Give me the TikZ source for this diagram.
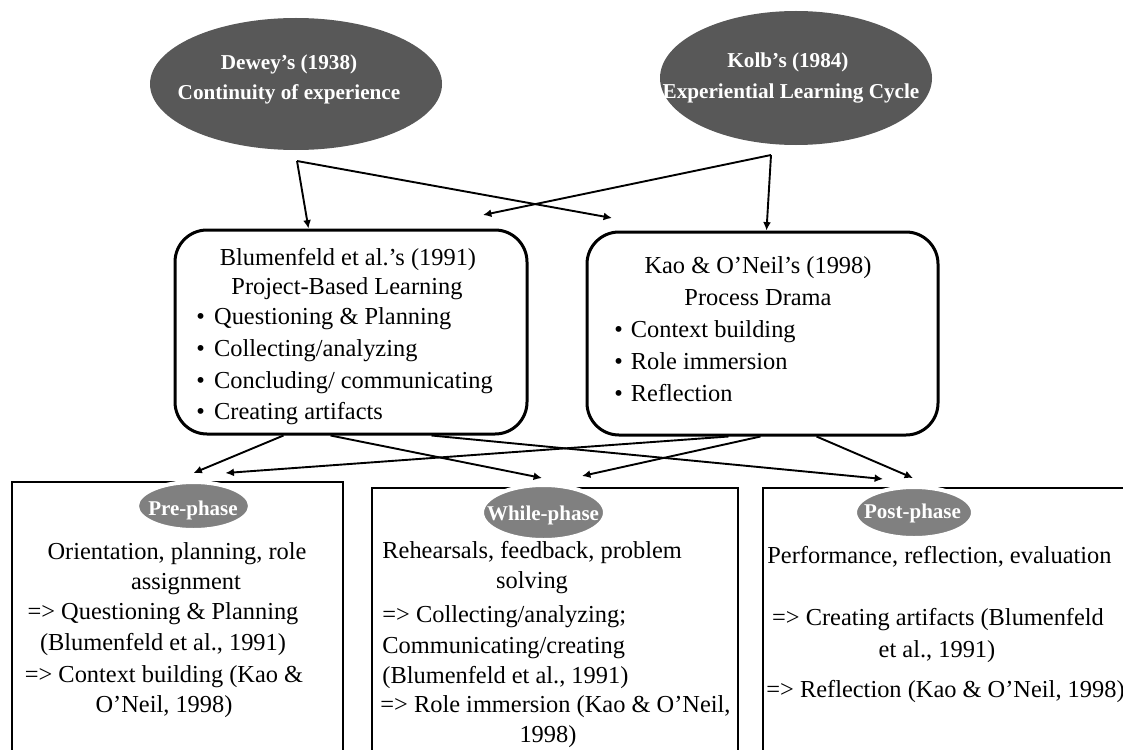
\documentclass[tikz,border=0pt]{standalone}
\usepackage{fontspec}
\setmainfont{Liberation Serif}
\usetikzlibrary{shapes.geometric,arrows.meta}
\definecolor{topgray}{RGB}{88,88,88}
\definecolor{phgray}{RGB}{128,128,128}
\tikzset{
  topell/.style={ellipse, fill=topgray, inner sep=0pt},
  phell/.style={ellipse, fill=phgray, draw=white, line width=2pt, inner sep=0pt},
  toptxt/.style={text=white, font=\bfseries\fontsize{10.6}{15}\selectfont, inner sep=0pt, anchor=base},
  phtxt/.style={text=white, font=\bfseries\fontsize{10.5}{13}\selectfont, inner sep=0pt, anchor=base},
  rbox/.style={draw, line width=1.5pt, rounded corners=16pt, inner sep=0pt},
  phbox/.style={draw, line width=0.9pt, inner sep=0pt},
  txt/.style={font=\fontsize{12.2}{15}\selectfont, inner sep=0pt, anchor=base},
  txtw/.style={txt, anchor=base west},
  arr/.style={line width=0.95pt, -{Latex[length=4.2pt,width=4pt]}},
}
\begin{document}
\begin{tikzpicture}[x=0.5pt,y=-0.5pt]
\useasboundingbox (0,0) rectangle (1123,749);
\clip (0,0) rectangle (1123,749);

% top ellipses
\node[topell, minimum width=146pt, minimum height=66pt] (dewey) at (296,84) {};
\node[toptxt] (dewey1) at (289,70) {Dewey’s (1938)};
\node[toptxt] (dewey2) at (289,100) {Continuity of experience};
\node[topell, minimum width=136pt, minimum height=67pt] (kolb) at (796,78) {};
\node[toptxt] (kolb1) at (788,68) {Kolb’s (1984)};
\node[toptxt] (kolb2) at (791,98) {Experiential Learning Cycle};

% middle rounded boxes
\node[rbox, minimum width=176pt, minimum height=102pt] (blum) at (351,332) {};
\node[txt] (blum1) at (348,265) {Blumenfeld et al.’s (1991)};
\node[txt] (blum2) at (347,294) {Project-Based Learning};
\node[txtw] (blum3) at (196,324) {\textbullet\hspace{4.6pt}Questioning \& Planning};
\node[txtw] (blum4) at (196,356) {\textbullet\hspace{4.6pt}Collecting/analyzing};
\node[txtw] (blum5) at (196,388) {\textbullet\hspace{4.6pt}Concluding/ communicating};
\node[txtw] (blum6) at (196,419) {\textbullet\hspace{4.6pt}Creating artifacts};

\node[rbox, minimum width=175.5pt, minimum height=101.5pt] (kao) at (762.5,333.5) {};
\node[txt] (kao1) at (758,273) {Kao \& O’Neil’s (1998)};
\node[txt] (kao2) at (758,305) {Process Drama};
\node[txtw] (kao3) at (614,337) {\textbullet\hspace{4pt}Context building};
\node[txtw] (kao4) at (614,369) {\textbullet\hspace{4pt}Role immersion};
\node[txtw] (kao5) at (614,401) {\textbullet\hspace{4pt}Reflection};

% phase boxes
\node[phbox, minimum width=165.5pt, minimum height=149pt] (prebox) at (177.5,631) {};
\node[phbox, minimum width=183pt, minimum height=146pt] (whilebox) at (555,634) {};
\node[phbox, minimum width=190pt, minimum height=146pt] (postbox) at (953,634) {};

% phase ellipses
\node[phell, minimum width=56.5pt, minimum height=24pt] (pre) at (193.5,506) {};
\node[phtxt] (pretxt) at (193,515) {Pre-phase};
\node[phell, minimum width=61.5pt, minimum height=27.5pt] (while) at (543.5,512.5) {};
\node[phtxt] (whiletxt) at (543,520) {While-phase};
\node[phell, minimum width=59pt, minimum height=25.5pt] (post) at (914,512.5) {};
\node[phtxt] (posttxt) at (912.5,518) {Post-phase};

% phase texts
\node[txt] (p1) at (177,559) {Orientation, planning, role};
\node[txt] (p2) at (186,589) {assignment};
\node[txt] (p3) at (163,619) {=> Questioning \& Planning};
\node[txt] (p4) at (163,650) {(Blumenfeld et al., 1991)};
\node[txt] (p5) at (164,682) {=> Context building (Kao \&};
\node[txt] (p6) at (164,712) {O’Neil, 1998)};

\node[txtw] (w1) at (382,558) {Rehearsals, feedback, problem};
\node[txt] (w2) at (532,588) {solving};
\node[txtw] (w3) at (382,622) {=> Collecting/analyzing;};
\node[txtw] (w4) at (382,653) {Communicating/creating};
\node[txtw] (w5) at (382,683) {(Blumenfeld et al., 1991)};
\node[txtw] (w6) at (380,712) {=> Role immersion (Kao \& O’Neil,};
\node[txt] (w7) at (548,742) {1998)};

\node[txtw] (q1) at (767,563) {Performance, reflection, evaluation};
\node[txt] (q2) at (938,625) {=> Creating artifacts (Blumenfeld};
\node[txt] (q3) at (937,657) {et al., 1991)};
\node[txtw] (q4) at (766,697) {=> Reflection (Kao \& O’Neil, 1998)};

% top connectors
\coordinate (dsrc) at (297,161);
\coordinate (ksrc) at (771,155);
\coordinate (dfree) at (612,218);
\coordinate (kfree) at (483,215);
\draw[arr] (dsrc) -- ([xshift=67.5pt]blum.north west);
\draw[arr] (dsrc) -- (dfree);
\draw[arr] (ksrc) -- ([xshift=90.5pt]kao.north west);
\draw[arr] (ksrc) -- (kfree);

% lower connectors
\draw[arr] ([xshift=55pt]blum.south west) -- ([yshift=3.5pt]pre.north);
\draw[arr] ([xshift=78.5pt]blum.south west) -- ([shift={(-0.75pt,2.5pt)}]while.north);
\draw[arr] ([xshift=129pt]blum.south west) -- ([shift={(-15.5pt,3pt)}]post.north);
\draw[arr] ([xshift=71.5pt]kao.south west) -- ([shift={(16pt,3.5pt)}]pre.north);
\draw[arr] ([xshift=87.5pt]kao.south west) -- ([shift={(19.25pt,3.5pt)}]while.north);
\draw[arr] ([xshift=115.5pt]kao.south west) -- ([shift={(-0.5pt,3.5pt)}]post.north);
\end{tikzpicture}
\end{document}
